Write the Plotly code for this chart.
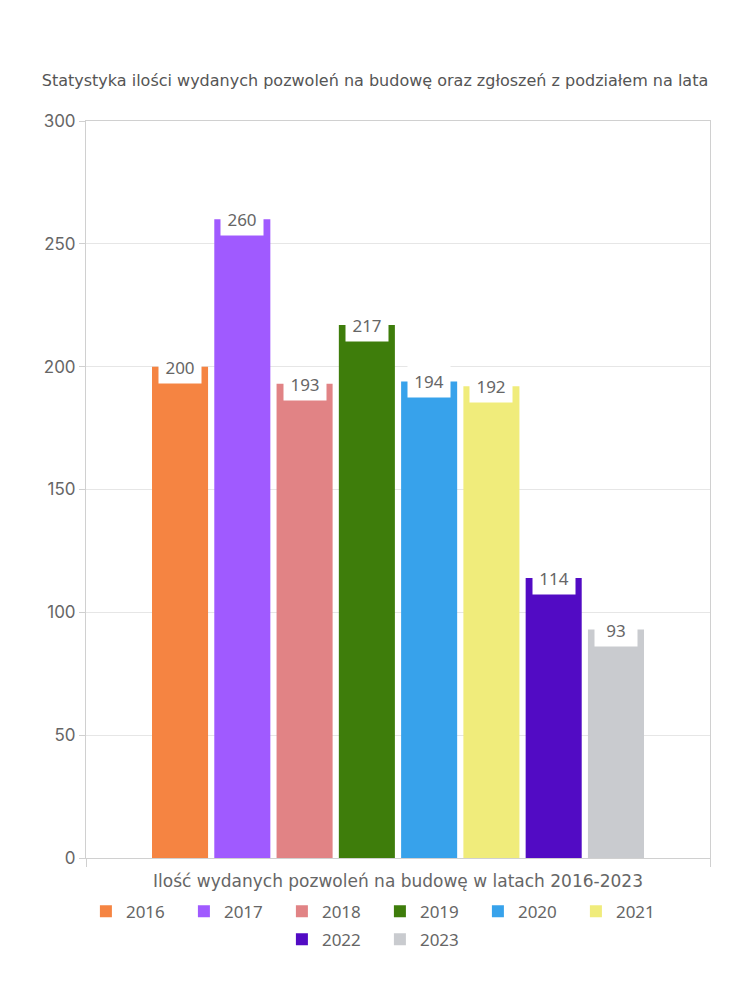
import plotly.graph_objects as go

years = ["2016", "2017", "2018", "2019", "2020", "2021", "2022", "2023"]
values = [200, 260, 193, 217, 194, 192, 114, 93]
colors = ["#F58442", "#A05AFF", "#E18385", "#3E7D0B", "#37A2EB", "#F0EC7B", "#520BC4", "#C9CBCF"]
y_ticks = [0, 50, 100, 150, 200, 250, 300]

title_text = "Statystyka ilości wydanych pozwoleń na budowę oraz zgłoszeń z podziałem na lata"
x_title = "Ilość wydanych pozwoleń na budowę w latach 2016-2023"

FONT = "Noto Sans"
WIDE = "DejaVu Sans"
GREY = "#666666"

fig = go.Figure()
for i, (yr, v, c) in enumerate(zip(years, values, colors)):
    fig.add_trace(go.Bar(
        x=[i], y=[v], name=yr, marker=dict(color=c, line=dict(width=0)),
        width=0.9, legend="legend" if i < 6 else "legend2",
        hoverinfo="name+y",
    ))
    fig.add_annotation(
        x=i, y=v, text=str(v), showarrow=False, yanchor="middle", xanchor="center",
        bgcolor="white", font=dict(family=FONT, size=17, color=GREY),
        width=42, height=32, borderpad=0,
    )

fig.update_layout(
    width=750, height=1000,
    margin=dict(l=86, r=40, t=121, b=142),
    paper_bgcolor="white", plot_bgcolor="white",
    barmode="overlay",
    title=dict(text=title_text, x=0.5, xanchor="center", y=1 - 80 / 1000, yanchor="middle",
               font=dict(family=WIDE, size=16, color="#555555")),
    font=dict(family=FONT, color=GREY),
    xaxis=dict(
        range=[-1.51, 8.51], showgrid=False, zeroline=False,
        tickvals=[-1.51, 8.51], ticktext=["", ""], ticks="outside", ticklen=8, tickcolor="#d0d0d0",
        showline=True, linecolor="#d0d0d0", mirror=True,
        title=dict(text=x_title, font=dict(family=WIDE, size=17, color=GREY), standoff=6),
        fixedrange=True,
    ),
    yaxis=dict(
        range=[0, 300], tickvals=y_ticks, showgrid=True, gridcolor="#e6e6e6", zeroline=False,
        ticks="outside", ticklen=6, tickcolor="#d0d0d0",
        showline=True, linecolor="#d0d0d0", mirror=True,
        tickfont=dict(family="Inter", size=17, color=GREY),
        fixedrange=True,
    ),
    legend=dict(orientation="h", x=0.471, xanchor="center", y=-0.073, yanchor="middle",
                entrywidth=53, entrywidthmode="pixels",
                font=dict(family=FONT, size=17, color=GREY), itemclick=False, itemdoubleclick=False),
    legend2=dict(orientation="h", x=0.471, xanchor="center", y=-0.111, yanchor="middle",
                 entrywidth=53, entrywidthmode="pixels",
                 font=dict(family=FONT, size=17, color=GREY), itemclick=False, itemdoubleclick=False),
    showlegend=True,
)

fig.write_html("out.html")
